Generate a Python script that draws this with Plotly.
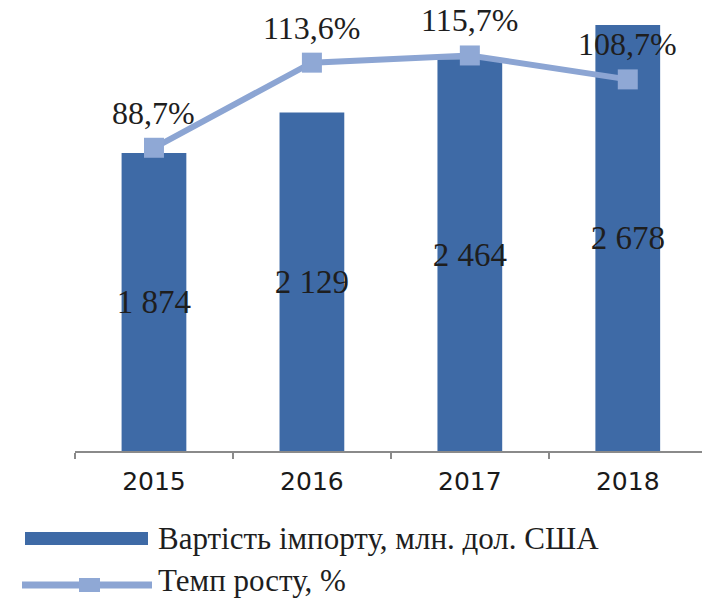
import plotly.graph_objects as go

# Import value and growth rate by year
years = ["2015", "2016", "2017", "2018"]
import_value = [1874, 2129, 2464, 2678]          # млн. дол. США
growth_rate = [88.7, 113.6, 115.7, 108.7]        # %

value_labels = ["1 874", "2 129", "2 464", "2 678"]
rate_labels = ["88,7%", "113,6%", "115,7%", "108,7%"]

legend_names = ["Вартість імпорту, млн. дол. США", "Темп росту, %"]

BAR_COLOR = "#3E6AA6"
LINE_COLOR = "#8CA5D3"
MARKER_COLOR = "#8FA8D5"
TEXT_COLOR = "#1E1E1E"
SERIF = "Liberation Serif, Times New Roman, serif"

W, H = 702, 601
M_L, M_R, M_T, M_B = 75, 0, 10, 150
PLOT_W = W - M_L - M_R
PLOT_H = H - M_T - M_B


def px_x(p):
    """Pixel column -> paper x."""
    return (p - M_L) / PLOT_W


def px_y(p):
    """Pixel row (from top) -> paper y."""
    return (H - M_B - p) / PLOT_H


fig = go.Figure()

fig.add_trace(go.Bar(
    x=years, y=import_value, width=0.41,
    marker=dict(color=BAR_COLOR, line=dict(width=0)),
    text=value_labels, textposition="inside", insidetextanchor="middle",
    textangle=0, constraintext="none",
    textfont=dict(family=SERIF, size=33, color=TEXT_COLOR),
    name=legend_names[0], showlegend=False,
))

fig.add_trace(go.Scatter(
    x=years, y=growth_rate, yaxis="y2", mode="lines+markers",
    line=dict(color=LINE_COLOR, width=6),
    marker=dict(symbol="square", size=20, color=MARKER_COLOR),
    name=legend_names[1], showlegend=False,
))

annotations = []
# Category axis: annotations are positioned by category index
for i, (val, lab) in enumerate(zip(growth_rate, rate_labels)):
    annotations.append(dict(
        x=i, y=val, xref="x", yref="y2", text=lab, showarrow=False,
        yshift=35, font=dict(family=SERIF, size=32, color=TEXT_COLOR),
    ))

# Hand-drawn legend below the axis
shapes = [
    dict(type="rect", xref="paper", yref="paper",
         x0=px_x(25), x1=px_x(148), y0=px_y(545), y1=px_y(532),
         fillcolor=BAR_COLOR, line=dict(width=0)),
    dict(type="line", xref="paper", yref="paper",
         x0=px_x(22), x1=px_x(152), y0=px_y(585), y1=px_y(585),
         line=dict(color=LINE_COLOR, width=7)),
    dict(type="rect", xref="paper", yref="paper",
         x0=px_x(79), x1=px_x(100), y0=px_y(592), y1=px_y(578),
         fillcolor=MARKER_COLOR, line=dict(width=0)),
]
annotations.append(dict(
    x=px_x(156), y=px_y(538), xref="paper", yref="paper", xanchor="left",
    yanchor="middle", text=legend_names[0], showarrow=False,
    font=dict(family=SERIF, size=31, color=TEXT_COLOR),
))
annotations.append(dict(
    x=px_x(156), y=px_y(580), xref="paper", yref="paper", xanchor="left",
    yanchor="middle", text=legend_names[1], showarrow=False,
    font=dict(family=SERIF, size=31, color=TEXT_COLOR),
))

fig.update_layout(
    width=W, height=H,
    margin=dict(l=M_L, r=M_R, t=M_T, b=M_B, pad=0),
    paper_bgcolor="white", plot_bgcolor="white",
    showlegend=False,
    xaxis=dict(
        type="category", range=[-0.5, 3.47],
        showline=True, linecolor="#8A8A8A", linewidth=1.5,
        ticks="outside", tickson="boundaries", ticklen=6,
        tickcolor="#8A8A8A", tickwidth=1.5,
        showgrid=False, zeroline=False,
        tickfont=dict(family="DejaVu Sans, Verdana, sans-serif",
                      size=25, color="#1A1A1A"),
        ticklabelstandoff=7,
    ),
    yaxis=dict(range=[0, 2773], visible=False, showgrid=False),
    yaxis2=dict(range=[0, 129.0], overlaying="y", visible=False,
                showgrid=False),
    shapes=shapes,
    annotations=annotations,
)

fig.write_html("out.html")
